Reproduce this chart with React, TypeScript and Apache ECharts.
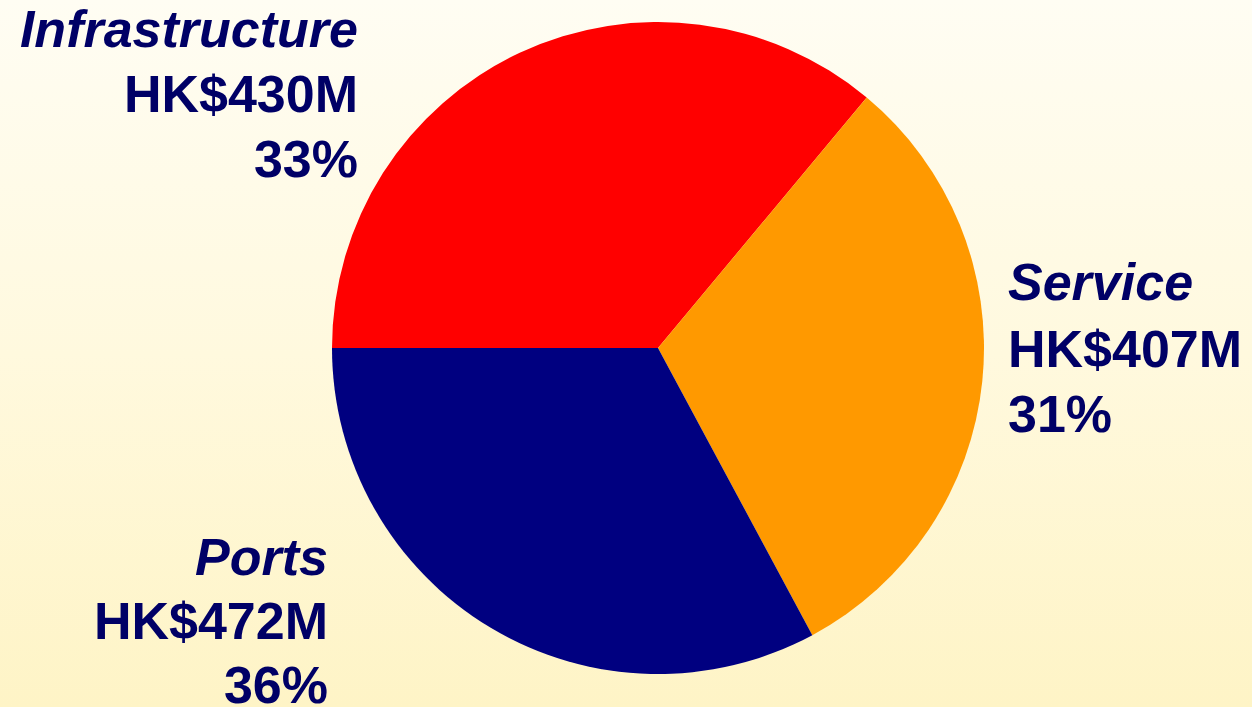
import React, { useEffect, useRef } from "react";
import * as echarts from "echarts";

// Label data as printed on the chart
const categories = ["Infrastructure", "Service", "Ports"];
const amountsHKM = [430, 407, 472];
const percentLabels = ["33%", "31%", "36%"];

// Wedges as drawn in the reference, clockwise from 9 o'clock
// (the top wedge is drawn at the 36% size, the bottom-left wedge at 33%)
const wedgeValueIndex = [2, 1, 0];
const wedgeColors = ["#FF0000", "#FF9900", "#000080"];

const TEXT_COLOR = "#000066";
const FONT = "'Liberation Sans', Arial, Helvetica, sans-serif";

export default function App() {
  const ref = useRef<HTMLDivElement>(null);

  useEffect(() => {
    document.body.style.margin = "0";
    if (!ref.current) return;
    const chart = echarts.init(ref.current, undefined, { renderer: "svg" });

    const blocks = [
      { idx: 0, x: 358, align: "right", ys: [29, 94, 159] },
      { idx: 1, x: 1008, align: "left", ys: [282, 349, 414] },
      { idx: 2, x: 328, align: "right", ys: [557, 621, 685] },
    ];

    const graphics: any[] = [];
    blocks.forEach((b) => {
      const lines = [
        { text: categories[b.idx], italic: true },
        { text: "HK$" + amountsHKM[b.idx] + "M", italic: false },
        { text: percentLabels[b.idx], italic: false },
      ];
      lines.forEach((ln, i) => {
        graphics.push({
          type: "text",
          x: b.x,
          y: b.ys[i],
          silent: true,
          style: {
            text: ln.text,
            fill: TEXT_COLOR,
            font: `${ln.italic ? "italic " : ""}bold 52px ${FONT}`,
            textAlign: b.align,
            textVerticalAlign: "middle",
          },
        });
      });
    });

    chart.setOption({
      animation: false,
      backgroundColor: {
        type: "linear",
        x: 0,
        y: 0,
        x2: 0,
        y2: 1,
        colorStops: [
          { offset: 0, color: "#FFFDF3" },
          { offset: 0.5, color: "#FFF9DE" },
          { offset: 1, color: "#FEF4C6" },
        ],
      },
      series: [
        {
          type: "pie",
          center: [658, 348],
          radius: 326,
          startAngle: 180,
          clockwise: true,
          label: { show: false },
          labelLine: { show: false },
          emphasis: { disabled: true },
          silent: true,
          itemStyle: { borderWidth: 0 },
          data: wedgeValueIndex.map((vi, k) => ({
            name: categories[k],
            value: amountsHKM[vi],
            itemStyle: { color: wedgeColors[k] },
          })),
        },
      ],
      graphic: graphics,
    });

    return () => chart.dispose();
  }, []);

  return (
    <div
      ref={ref}
      style={{ position: "absolute", left: 0, top: 0, width: 1252, height: 707 }}
    />
  );
}
